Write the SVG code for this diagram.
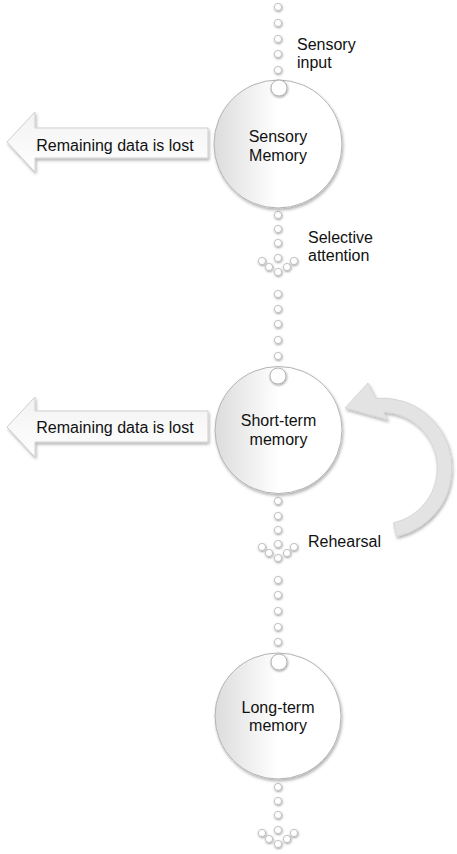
<svg xmlns="http://www.w3.org/2000/svg" width="457" height="854" viewBox="0 0 457 854">
  <defs>
    <linearGradient id="circGrad" x1="0" y1="0" x2="1" y2="0">
      <stop offset="0" stop-color="#dcdcdc"/>
      <stop offset="0.5" stop-color="#ffffff"/>
      <stop offset="1" stop-color="#ffffff"/>
    </linearGradient>
    <linearGradient id="arrGrad" x1="0" y1="0" x2="0" y2="1">
      <stop offset="0" stop-color="#f2f2f2"/>
      <stop offset="1" stop-color="#ffffff"/>
    </linearGradient>
    <filter id="shadow" x="-20%" y="-20%" width="140%" height="140%">
      <feDropShadow dx="1" dy="2" stdDeviation="1.5" flood-color="#000" flood-opacity="0.3"/>
    </filter>
    <filter id="dotShadow" x="-50%" y="-50%" width="200%" height="200%">
      <feDropShadow dx="0.5" dy="1" stdDeviation="0.8" flood-color="#000" flood-opacity="0.4"/>
    </filter>
    <g id="dot"><circle r="3.6" fill="#ffffff" stroke="#b5b5b5" stroke-width="0.8" filter="url(#dotShadow)"/></g>
    <g id="head">
      <use href="#dot" x="-16" y="3"/>
      <use href="#dot" x="-9" y="9"/>
      <use href="#dot" x="0" y="0"/>
      <use href="#dot" x="0" y="14"/>
      <use href="#dot" x="9" y="9"/>
      <use href="#dot" x="16" y="3"/>
    </g>
  </defs>
  <style>
    .big { fill: url(#circGrad); stroke: #b3b3b3; stroke-width: 1; filter: url(#shadow); }
    .knob { fill: #ffffff; stroke: #b3b3b3; stroke-width: 1; filter: url(#dotShadow); }
    .blk { fill: url(#arrGrad); stroke: #cfcfcf; stroke-width: 1; filter: url(#shadow); }
    .curve { fill: #e3e3e3; stroke: #d0d0d0; stroke-width: 0.8; filter: url(#shadow); }
    text { font-family: "Liberation Sans", Arial, sans-serif; font-size: 16px; fill: #111111; }
    .c { text-anchor: middle; }
  </style>

  <g id="connectors">
    <use href="#dot" x="278" y="7"/>
    <use href="#dot" x="278" y="23"/>
    <use href="#dot" x="278" y="39"/>
    <use href="#dot" x="278" y="54"/>
    <use href="#dot" x="278" y="70"/>
    <use href="#dot" x="278" y="215"/>
    <use href="#dot" x="278" y="229"/>
    <use href="#dot" x="278" y="243"/>
    <use href="#head" x="278" y="258"/>
    <use href="#dot" x="278" y="294"/>
    <use href="#dot" x="278" y="309"/>
    <use href="#dot" x="278" y="324"/>
    <use href="#dot" x="278" y="340"/>
    <use href="#dot" x="278" y="356"/>
    <use href="#dot" x="278" y="501"/>
    <use href="#dot" x="278" y="516"/>
    <use href="#dot" x="278" y="530"/>
    <use href="#head" x="278" y="544"/>
    <use href="#dot" x="278" y="580"/>
    <use href="#dot" x="278" y="595"/>
    <use href="#dot" x="278" y="611"/>
    <use href="#dot" x="278" y="627"/>
    <use href="#dot" x="278" y="642"/>
    <use href="#dot" x="278" y="787"/>
    <use href="#dot" x="278" y="801"/>
    <use href="#dot" x="278" y="815"/>
    <use href="#head" x="278" y="830"/>
    <path class="curve" d="M393.6,522.8 A56,56 0 0 0 383.7,412.2 L388,420 L345,408 L368,383 L376,398.3 A70,70 0 0 1 396.6,536.5 Z"/>
  </g>

  <g id="lost1">
    <path class="blk" d="M7,142 L35,112 L35,128 L208,128 L208,158 L35,158 L35,172 Z"/>
    <text x="115" y="151" class="c">Remaining data is lost</text>
  </g>

  <g id="lost2">
    <path class="blk" d="M7,427 L35,397 L35,411 L208,411 L208,442 L35,442 L35,457 Z"/>
    <text x="115" y="433" class="c">Remaining data is lost</text>
  </g>

  <g id="sensory">
    <circle class="big" cx="278" cy="144" r="64"/>
    <circle class="knob" cx="279" cy="88" r="8"/>
    <text x="278" y="142" class="c">Sensory</text>
    <text x="278" y="161" class="c">Memory</text>
  </g>

  <g id="shortterm">
    <circle class="big" cx="278.5" cy="430" r="63.5"/>
    <circle class="knob" cx="278" cy="376" r="8"/>
    <text x="278.5" y="426" class="c">Short-term</text>
    <text x="278.5" y="445" class="c">memory</text>
  </g>

  <g id="longterm">
    <circle class="big" cx="278" cy="716" r="63"/>
    <circle class="knob" cx="279" cy="662" r="8"/>
    <text x="278" y="713" class="c">Long-term</text>
    <text x="278" y="731" class="c">memory</text>
  </g>

  <g id="labels">
    <text x="297" y="50">Sensory</text>
    <text x="297" y="68">input</text>
    <text x="308" y="243">Selective</text>
    <text x="308" y="261">attention</text>
    <text x="308" y="547">Rehearsal</text>
  </g>
</svg>
